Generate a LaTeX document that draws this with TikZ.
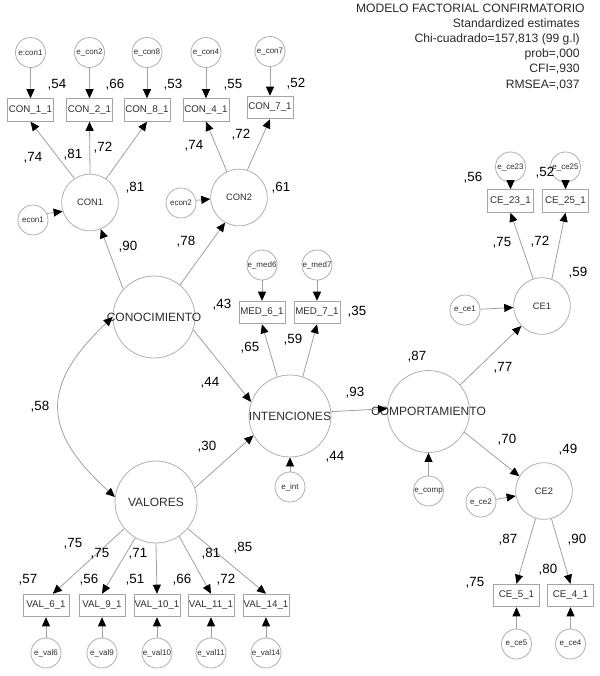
\documentclass[tikz,border=0pt]{standalone}
\usepackage{fontspec}
\setmainfont{Liberation Sans}
\usetikzlibrary{arrows.meta}

\tikzset{every picture/.style={line width=0.6pt}}
\tikzset{
  latent/.style={circle, draw={rgb, 255:red, 175; green, 175; blue, 175 }, inner sep=0pt, minimum size=61.5pt, text={rgb, 255:red, 45; green, 45; blue, 45 }, font=\fontsize{9}{10}\selectfont},
  factor/.style={latent, minimum size=42.5pt, font=\fontsize{7}{8}\selectfont},
  errvar/.style={latent, minimum size=22.5pt, font=\fontsize{6}{6}\selectfont},
  indic/.style={rectangle, draw={rgb, 255:red, 165; green, 165; blue, 165 }, inner sep=0pt, minimum width=34.5pt, minimum height=17pt, text={rgb, 255:red, 45; green, 45; blue, 45 }, font=\fontsize{7.3}{8}\selectfont},
  regr/.style={draw={rgb, 255:red, 160; green, 160; blue, 160 }, -{Triangle[length=6.8pt, width=6pt, color=black]}},
  cov/.style={regr, {Triangle[length=6.8pt, width=6pt, color=black]}-{Triangle[length=6.8pt, width=6pt, color=black]}},
  estim/.style={inner sep=0pt, font=\fontsize{10}{12}\selectfont},
  fitline/.style={anchor=base east, inner sep=0pt, text={rgb, 255:red, 40; green, 40; blue, 40 }, font=\fontsize{9.1}{10}\selectfont}
}

\begin{document}
\begin{tikzpicture}[x=0.75pt,y=0.75pt,yscale=-1,xscale=1]
%set diagram from (0,0), width 600 and height 676
\useasboundingbox (0,0) rectangle (600,676);

%Shape: Circle [latent variables]
\node[latent] (conoc) at (154,317) {\makebox[0pt]{CONOCIMIENTO}};
\node[latent] (valores) at (156,502) {VALORES};
\node[latent] (intenc) at (290,416) {\makebox[0pt]{INTENCIONES}};
\node[latent] (comport) at (428.5,411.5) {\makebox[0pt]{COMPORTAMIENTO}};
%Shape: Circle [first order factors]
\node[factor] (con1) at (90,202.5) {CON1};
\node[factor] (con2) at (239,197.5) {CON2};
\node[factor] (ce1) at (542,306) {CE1};
\node[factor] (ce2) at (544,491) {CE2};

%Shape: Rectangle [observed]
\node[indic] (c11) at (30.5,110) {CON\_1\_1};
\node[indic] (c21) at (89.5,110) {CON\_2\_1};
\node[indic] (c81) at (147,110) {CON\_8\_1};
\node[indic] (c41) at (206,110) {CON\_4\_1};
\node[indic] (c71) at (270,107.5) {CON\_7\_1};
\node[indic] (m61) at (262,312.5) {MED\_6\_1};
\node[indic] (m71) at (317,312.5) {MED\_7\_1};
\node[indic] (ce231) at (510.5,201) {CE\_23\_1};
\node[indic] (ce251) at (565.5,201) {CE\_25\_1};
\node[indic] (ce51) at (516.5,595.5) {CE\_5\_1};
\node[indic] (ce41) at (570.5,595.5) {CE\_4\_1};
\node[indic] (v61) at (46,605.5) {VAL\_6\_1};
\node[indic] (v91) at (102,605.5) {VAL\_9\_1};
\node[indic] (v101) at (157,605.5) {VAL\_10\_1};
\node[indic] (v111) at (211,605.5) {VAL\_11\_1};
\node[indic] (v141) at (266,605.5) {VAL\_14\_1};

%Shape: Circle [error terms]
\node[errvar] (ecn1) at (30.5,52.5) {e:con1};
\node[errvar] (ecn2) at (89.5,52.5) {e\_con2};
\node[errvar] (ecn8) at (147,52.5) {e\_con8};
\node[errvar] (ecn4) at (206,52.5) {e\_con4};
\node[errvar] (ecn7) at (270,51.5) {e\_con7};
\node[errvar] (econ1) at (33,220) {econ1};
\node[errvar] (econ2) at (181,203) {econ2};
\node[errvar] (emed6) at (262,265) {e\_med6};
\node[errvar] (emed7) at (317,265) {e\_med7};
\node[errvar] (eint) at (290,487) {e\_int};
\node[errvar] (ecomp) at (428.5,491) {e\_comp};
\node[errvar] (ece1) at (465,310) {e\_ce1};
\node[errvar] (ece2) at (481,502) {e\_ce2};
\node[errvar] (ece23) at (510.5,167) {e\_ce23};
\node[errvar] (ece25) at (565.5,167) {e\_ce25};
\node[errvar] (ece5) at (516.5,644) {e\_ce5};
\node[errvar] (ece4) at (570.5,644) {e\_ce4};
\node[errvar] (eval6) at (46,653) {e\_val6};
\node[errvar] (eval9) at (102,653) {e\_val9};
\node[errvar] (eval10) at (157,653) {e\_val10};
\node[errvar] (eval11) at (211,653) {e\_val11};
\node[errvar] (eval14) at (266,653) {e\_val14};

%Straight Lines [structural paths]
\draw[regr] (conoc.138) -- (con1.292);
\draw[regr] (conoc.51) -- (con2.241);
\draw[regr] (conoc.342) -- (intenc.160);
\draw[regr] (valores.20) -- (intenc.208);
\draw[regr] (intenc.6) -- (comport.176);
\draw[regr] (comport.40) -- (ce1.224);
\draw[regr] (comport.330) -- (ce2.149);
%Straight Lines [loadings]
\draw[regr] (con1.123) -- (c11.south);
\draw[regr] (con1.90) -- (c21.south);
\draw[regr] (con1.56) -- (c81.south);
\draw[regr] (con2.115) -- (c41.south);
\draw[regr] (con2.73) -- (c71.south);
\draw[regr] (intenc.108) -- (m61.south);
\draw[regr] (intenc.72) -- (m71.south);
\draw[regr] (ce1.108) -- (ce231.south);
\draw[regr] (ce1.70) -- (ce251.south);
\draw[regr] (ce2.253) -- (ce51.north);
\draw[regr] (ce2.285) -- (ce41.north);
\draw[regr] (valores.220) -- (v61.60);
\draw[regr] (valores.240) -- (v91.north);
\draw[regr] (valores.270) -- (v101.north);
\draw[regr] (valores.304) -- (v111.north);
\draw[regr] (valores.320) -- (v141.north);
%Straight Lines [errors]
\draw[regr] (ecn1) -- (c11);
\draw[regr] (ecn2) -- (c21);
\draw[regr] (ecn8) -- (c81);
\draw[regr] (ecn4) -- (c41);
\draw[regr] (ecn7) -- (c71);
\draw[regr] (econ1.25) -- (con1.198);
\draw[regr] (econ2.10) -- (con2.183);
\draw[regr] (emed6) -- (m61);
\draw[regr] (emed7) -- (m71);
\draw[regr] (eint) -- (intenc);
\draw[regr] (ecomp) -- (comport);
\draw[regr] (ece1) -- (ce1);
\draw[regr] (ece2) -- (ce2);
\draw[regr] (ece23) -- (ce231);
\draw[regr] (ece25) -- (ce251);
\draw[regr] (ece5) -- (ce51);
\draw[regr] (ece4) -- (ce41);
\draw[regr] (eval6) -- (v61);
\draw[regr] (eval9) -- (v91);
\draw[regr] (eval10) -- (v101);
\draw[regr] (eval11) -- (v111);
\draw[regr] (eval14) -- (v141);
%Curve Lines [covariance]
\draw[cov] (conoc.180) .. controls (41,385) and (41,430) .. (valores.173);

% Text Node [fit]
\node[fitline] (title) at (585,12) {MODELO FACTORIAL CONFIRMATORIO};
\node[fitline] (fit1) at (580,27.2) {Standardized estimates};
\node[fitline] (fit2) at (580,42.4) {Chi-cuadrado=157,813 (99 g.l)};
\node[fitline] (fit3) at (580,57.6) {prob=,000};
\node[fitline] (fit4) at (580,72.8) {CFI=,930};
\node[fitline] (fit5) at (580,88) {RMSEA=,037};

% Text Node [CON block]
\node[estim] (rc11) at (57,85) {,54};
\node[estim] (rc21) at (115,85) {,66};
\node[estim] (rc81) at (173,85) {,53};
\node[estim] (rc41) at (233,85) {,55};
\node[estim] (rc71) at (296,84) {,52};
\node[estim] (lc11) at (33,158) {,74};
\node[estim] (lc21) at (73,155) {,81};
\node[estim] (lc81) at (103,148) {,72};
\node[estim] (rcon1) at (135,188) {,81};
\node[estim] (lc41) at (194,146) {,74};
\node[estim] (lc71) at (241,135) {,72};
\node[estim] (rcon2) at (281,188) {,61};
\node[estim] (bcon1) at (128,247) {,90};
\node[estim] (bcon2) at (186,242) {,78};
% Text Node [middle]
\node[estim] (rm61) at (222,305) {,43};
\node[estim] (lm61) at (250,348) {,65};
\node[estim] (lm71) at (293,340) {,59};
\node[estim] (rm71) at (357,312) {,35};
\node[estim] (bint1) at (210,383) {,44};
\node[estim] (covcv) at (40,407) {,58};
\node[estim] (bint2) at (207,447) {,30};
\node[estim] (bcomp) at (355,393) {,93};
\node[estim] (rcomp) at (417,357) {,87};
\node[estim] (rint) at (335,457) {,44};
% Text Node [CE block]
\node[estim] (bce1) at (503,368) {,77};
\node[estim] (bce2) at (507,440) {,70};
\node[estim] (rce2) at (568,450) {,49};
\node[estim] (lce231) at (502,243) {,75};
\node[estim] (lce251) at (540,242) {,72};
\node[estim] (rce1) at (578,273) {,59};
\node[estim] (rce231) at (473,178) {,56};
\node[estim] (rce251) at (545,173) {,52};
\node[estim] (lce51) at (508,540) {,87};
\node[estim] (lce41) at (577,540) {,90};
\node[estim] (rce41) at (548,570) {,80};
\node[estim] (rce51) at (475,583) {,75};
% Text Node [VAL block]
\node[estim] (lv61) at (73,544) {,75};
\node[estim] (lv91) at (100,554) {,75};
\node[estim] (lv101) at (138,554) {,71};
\node[estim] (lv111) at (211,554) {,81};
\node[estim] (lv141) at (243,548) {,85};
\node[estim] (rv61) at (28,580) {,57};
\node[estim] (rv91) at (89,580) {,56};
\node[estim] (rv101) at (135,580) {,51};
\node[estim] (rv111) at (182,580) {,66};
\node[estim] (rv141) at (226,580) {,72};

\end{tikzpicture}
\end{document}
